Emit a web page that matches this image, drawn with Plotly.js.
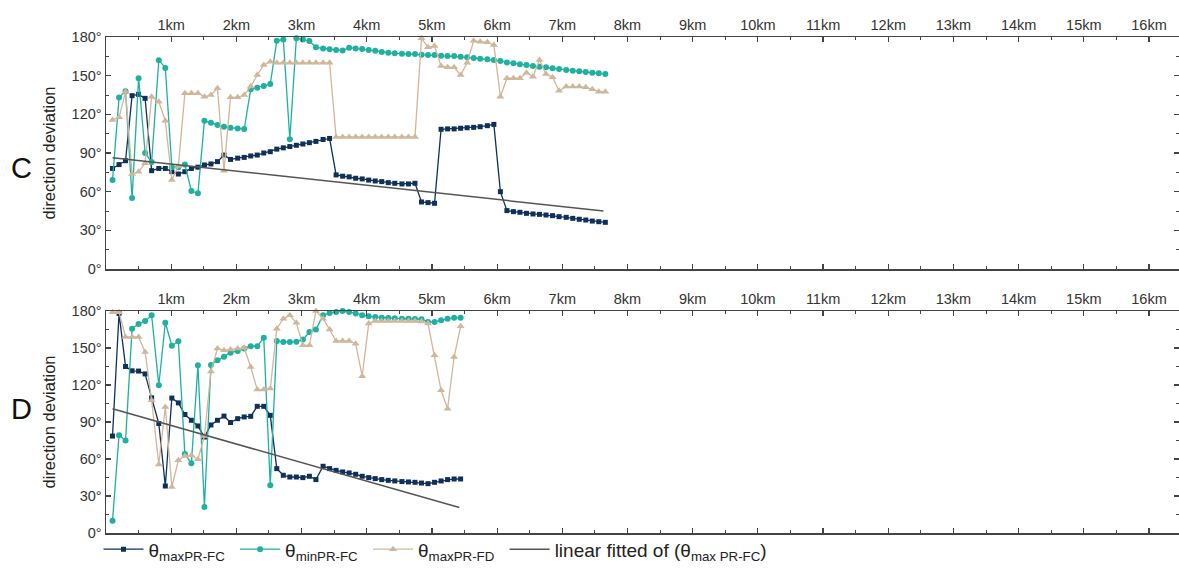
<!DOCTYPE html>
<html>
<head>
<meta charset="utf-8">
<script src="https://cdn.plot.ly/plotly-3.0.1.min.js"></script>
<style>html,body{margin:0;padding:0;background:#fff;}#chart{width:1179px;height:583px;}</style>
</head>
<body>
<div id="chart"></div>
<script>
// distance along profile (km)
const xKm = [0.10,0.20,0.30,0.40,0.50,0.60,0.70,0.81,0.91,1.01,1.11,1.21,1.31,1.41,1.51,1.61,1.71,1.81,1.91,2.02,
2.12,2.22,2.32,2.42,2.52,2.62,2.72,2.82,2.92,3.02,3.12,3.22,3.33,3.43,3.53,3.63,3.73,3.83,3.93,4.03,
4.13,4.23,4.33,4.43,4.54,4.64,4.74,4.84,4.94,5.04,5.14,5.24,5.34,5.44,5.54,5.64,5.74,5.85,5.95,6.05,
6.15,6.25,6.35,6.45,6.55,6.65,6.75,6.85,6.95,7.06,7.16,7.26,7.36,7.46,7.56,7.66];

// Panel C
const cMaxPRFC = [78,81,84,134.5,135.5,132.4,76.3,78,78,75.5,73.7,75.5,78,79,80.7,81.5,83.3,88.4,85,86,
86.6,87.7,88.4,90,91,93,94,95,96,97,98,99,100.5,101.3,73,72,71.5,70.4,69.9,69,
68.3,67.8,67,66.5,66,66,66.5,52,51.5,51,108.4,108.7,108.7,109.2,109.6,109.9,110.4,111.2,112.2,60,
45.3,44.5,44,43.2,42.7,42.4,41.9,41.4,40.6,40.1,39.3,38.6,38,37.2,36.7,36.2];
const cMinPRFC = [69,133,138,55,148,90,83,162,156,79,79,81,60.5,58.7,115,113.5,111.7,110.4,109.6,109.1,
108.6,139.4,140.7,142,143.5,177,178,100.6,179,178,176.9,172,171,170.5,170,169.5,171.7,171,170.7,170,
169.3,168.4,167.8,167.3,167.1,166.8,166.8,166.3,166,166,165.5,165.3,165.3,164.7,164.2,163.7,163.2,162.7,162.2,161.4,
160.3,159.6,158.8,158.3,157.5,157,156.5,155.7,155.2,154.4,153.9,153.4,152.8,152.3,151.8,151.3];
const cMaxPRFD = [115.6,117.7,137.6,73.7,75.5,82,133.7,129.8,115,69,80,136.3,136.3,136.3,133.7,135,140.2,76.3,133.2,133.2,
135,141.5,150.5,158.3,160.8,160,160,160,160,160,160,160,160,160,102.5,102.5,102.5,102.5,102.5,102.5,
102.5,102.5,102.5,102.5,102.5,102.5,102.5,179,172,173,157.5,156.5,156.5,150.5,160,177,176.4,175.9,173.8,133.7,
148,148,148,152.3,149.2,162.2,151.3,148.7,138.3,141.5,141.5,141.5,141,139.4,137.6,137.6];
const cFitX = [0.10, 7.63];
const cFitY = [86.4, 45.0];

// Panel D (first 54 stations)
const dMaxPRFC = [78.6,178,135,131.5,131.3,129,109.6,88.8,38.1,109.4,105.5,96.1,91.4,86.8,77.8,87.6,91.4,94.8,89.6,92.7,
94.1,94.6,102.7,102.7,95.4,52.2,46.8,45.4,45.4,44.9,46,43.3,54.1,52.2,50.8,49.5,48.7,47.6,46,44.9,
44.1,43.3,42.7,42.2,41.7,41.4,41.1,40.5,40,41.1,42.2,43.3,43.8,43.8];
const dMinPRFC = [10,79.2,74.9,165.7,169.5,171.8,176.5,119.8,170.5,151.8,155.5,64,56.5,136,21.1,136.3,140,143,146.2,147.6,
149.5,151.4,151.4,158.4,38.7,155.7,154.9,154.9,155,156.8,163,164.9,176.5,178.4,179.2,180,179.2,177.9,176.5,175.7,
175.1,174.6,174.3,174.1,173.8,173.8,173.5,173.3,171.1,171.1,172.5,173.8,174.6,174.6];
const dMaxPRFD = [179,179,158.9,158.9,158.9,146.8,107.6,55.5,102.2,37.3,59,62.4,63,59.8,78.6,131,149.5,148.1,148.7,149.5,
150.3,134.6,116.3,116.3,117.1,165.7,173.8,176.5,170.5,152.2,152.2,180,173.8,164.9,155.7,155.7,155.7,153.5,127.1,169.8,
171.9,171.9,171.9,171.9,171.9,171.9,171.9,171.5,169.8,144.1,115.7,100.8,142.7,167.6];
const dFitX = [0.10, 5.42];
const dFitY = [100.8, 20.6];

// ticks & labels
const kmTicks = [1,2,3,4,5,6,7,8,9,10,11,12,13,14,15,16];
const kmLabels = ['1km','2km','3km','4km','5km','6km','7km','8km','9km','10km','11km','12km','13km','14km','15km','16km'];
const degTicks = [0,30,60,90,120,150,180];
const degLabels = ['0°','30°','60°','90°','120°','150°','180°'];
const seriesNames = ['θ<sub>maxPR-FC</sub>\u00a0','θ<sub>minPR-FC</sub>\u00a0','θ<sub>maxPR-FD</sub>\u00a0','linear fitted of (θ<sub>max PR-FC</sub>)'];
const panelLabels = ['C','D'];

const NAVY = '#0f3159', TEAL = '#1fb0a0', TAN = '#d0b79b', FIT = '#555555';
const nD = dMaxPRFC.length;
const xD = xKm.slice(0, nD);

function tr(x, y, name, color, symbol, size, xa, ya, show) {
  return {x: x, y: y, name: name, type: 'scatter', mode: 'lines+markers',
    line: {color: color, width: 1.3}, marker: {color: color, symbol: symbol, size: size},
    xaxis: xa, yaxis: ya, showlegend: show, cliponaxis: false, legendgroup: name};
}
function fit(x, y, xa, ya, show) {
  return {x: x, y: y, name: seriesNames[3], type: 'scatter', mode: 'lines',
    line: {color: FIT, width: 1.5}, xaxis: xa, yaxis: ya, showlegend: show, legendgroup: 'fit'};
}

const data = [
  tr(xKm, cMaxPRFC, seriesNames[0], NAVY, 'square', 5, 'x', 'y', true),
  tr(xKm, cMinPRFC, seriesNames[1], TEAL, 'circle', 6, 'x', 'y', true),
  tr(xKm, cMaxPRFD, seriesNames[2], TAN, 'triangle-up', 7, 'x', 'y', true),
  fit(cFitX, cFitY, 'x', 'y', true),
  tr(xD, dMaxPRFC, seriesNames[0], NAVY, 'square', 5, 'x2', 'y2', false),
  tr(xD, dMinPRFC, seriesNames[1], TEAL, 'circle', 6, 'x2', 'y2', false),
  tr(xD, dMaxPRFD, seriesNames[2], TAN, 'triangle-up', 7, 'x2', 'y2', false),
  fit(dFitX, dFitY, 'x2', 'y2', false)
];
const H = 496, TOP = 37, BOT = 533;
const yC0 = (BOT - 269) / H, yD1 = (BOT - 311) / H;

function xax(anchor) {
  return {anchor: anchor, side: 'top', range: [0, 16.46], tickmode: 'array', tickvals: kmTicks, ticktext: kmLabels,
    ticks: 'inside', ticklen: 5, tickwidth: 1.2, tickcolor: '#444', showline: true, linecolor: '#444', linewidth: 1.5,
    mirror: 'ticks', showgrid: false, zeroline: false, tickfont: {size: 14.5, color: '#333'},
    minor: {tickmode: 'linear', tick0: 0, dtick: 0.5, ticks: 'inside', ticklen: 3, tickcolor: '#444', tickwidth: 1, showgrid: false}};
}
function yax(dom, anchor) {
  return {domain: dom, anchor: anchor, range: [0, 180], tickmode: 'array', tickvals: degTicks, ticktext: degLabels,
    ticks: 'inside', ticklen: 5, tickwidth: 1.2, tickcolor: '#444', showline: true, linecolor: '#444', linewidth: 1.5,
    mirror: 'ticks', showgrid: false, zeroline: false, tickfont: {size: 14.5, color: '#333'},
    title: {text: 'direction deviation', font: {size: 16.5, color: '#222'}, standoff: 12},
    minor: {tickmode: 'linear', tick0: 0, dtick: 15, ticks: 'inside', ticklen: 3, tickcolor: '#444', tickwidth: 1, showgrid: false}};
}

const layout = {
  width: 1179, height: 583,
  margin: {l: 106, r: 0, t: TOP, b: 583 - BOT, pad: 0},
  paper_bgcolor: '#fff', plot_bgcolor: '#fff',
  font: {family: 'Liberation Sans, Arial, sans-serif', color: '#333', size: 14},
  xaxis: Object.assign(xax('y'), {domain: [0, 1]}),
  yaxis: yax([yC0, 1], 'x'),
  xaxis2: Object.assign(xax('y2'), {domain: [0, 1]}),
  yaxis2: yax([0, yD1], 'x2'),
  showlegend: true,
  legend: {orientation: 'h', x: -0.007, y: -0.033, xanchor: 'left', yanchor: 'middle',
    font: {size: 19, color: '#222'}, itemwidth: 40, bgcolor: 'rgba(0,0,0,0)', tracegroupgap: 0},
  annotations: [
    {text: panelLabels[0], xref: 'paper', yref: 'paper', x: -0.09, y: (BOT - 150) / H, showarrow: false, font: {size: 29, color: '#111'}},
    {text: panelLabels[1], xref: 'paper', yref: 'paper', x: -0.09, y: (BOT - 427) / H, showarrow: false, font: {size: 29, color: '#111'}}
  ]
};

Plotly.newPlot('chart', data, layout, {displayModeBar: false, staticPlot: true});
</script>
</body>
</html>
